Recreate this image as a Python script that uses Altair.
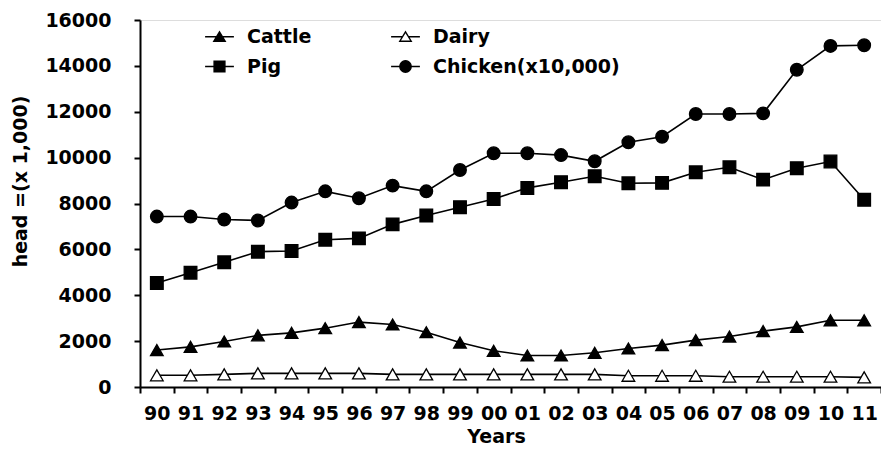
import altair as alt
import pandas as pd

years = ["90", "91", "92", "93", "94", "95", "96", "97", "98", "99", "00",
         "01", "02", "03", "04", "05", "06", "07", "08", "09", "10", "11"]
cattle = [1610, 1750, 1985, 2250, 2360, 2565, 2830, 2725, 2390, 1940, 1580,
          1375, 1375, 1490, 1680, 1825, 2045, 2200, 2435, 2620, 2910, 2910]
dairy = [510, 510, 550, 595, 595, 595, 595, 550, 550, 550, 550,
         550, 550, 550, 490, 490, 490, 450, 450, 450, 450, 420]
pig = [4535, 4985, 5435, 5900, 5930, 6420, 6480, 7090, 7480, 7840, 8200,
       8680, 8930, 9190, 8880, 8900, 9360, 9580, 9040, 9540, 9830, 8160]
chicken = [7430, 7430, 7300, 7260, 8040, 8530, 8230, 8780, 8530, 9460, 10190,
           10190, 10110, 9840, 10670, 10910, 11900, 11900, 11930, 13830, 14870, 14900]

# legend order (column-major fill of a 2x2 grid): Cattle, Pig | Dairy, Chicken
animals = ["Cattle", "Pig", "Dairy", "Chicken"]
labels = ["Cattle", "Pig", "Dairy", "Chicken(x10,000)"]
plot_shapes = ["triangle-up", "square", "triangle-up", "circle"]
fills = ["black", "black", "white", "black"]
strokes = ["black", "black", "black", "black"]
legend_shapes = [
    "M-2.4,0H2.4M0,-0.8L0.95,0.75L-0.95,0.75Z",
    "M-2.4,0H2.4M-0.9,-0.9H0.9V0.9H-0.9Z",
    "M-2.4,0H-0.5M0.5,0H2.4M0,-0.8L0.95,0.75L-0.95,0.75Z",
    "M-2.4,0H2.4M0.95,0A0.95,0.95,0,1,1,-0.95,0A0.95,0.95,0,1,1,0.95,0Z",
]
series = {"Cattle": cattle, "Pig": pig, "Dairy": dairy, "Chicken": chicken}

rows = []
for name, lab in zip(animals, labels):
    for yr, v in zip(years, series[name]):
        rows.append({"Year": yr, "Animal": lab, "Head": v})
df = pd.DataFrame(rows)

FONT = "DejaVu Sans"

x = alt.X(
    "Year:O",
    sort=years,
    scale=alt.Scale(type="band", domain=years, paddingInner=0, paddingOuter=0),
    axis=alt.Axis(
        title="Years", tickBand="extent", labelAngle=0, labelFont=FONT,
        labelFontWeight="bold", labelFontSize=19, labelColor="black",
        labelPadding=11, tickSize=6, tickWidth=2, tickColor="black",
        domainColor="black", domainWidth=2, titleFont=FONT,
        titleFontSize=19, titleFontWeight="bold", titleColor="black",
        titleX=356, titleY=49, titleBaseline="middle", titleAnchor="start",
        titleAlign="center",
    ),
)
y = alt.Y(
    "Head:Q",
    scale=alt.Scale(domain=[0, 16000], nice=False),
    axis=alt.Axis(
        title="head =(x 1,000)", values=list(range(0, 16001, 2000)), grid=False,
        format="d",
        labelFont=FONT, labelFontWeight="bold", labelFontSize=19,
        labelColor="black", labelPadding=23, tickSize=6, tickWidth=2,
        tickColor="black", domainColor="black", domainWidth=2,
        titleFont=FONT, titleFontSize=19, titleFontWeight="bold",
        titleColor="black", titleX=-120, titleY=161, titleAngle=-90,
        titleBaseline="middle", titleAlign="center", titleAnchor="start",
    ),
)

base = alt.Chart(df).encode(x=x, y=y)

lines = base.mark_line(color="black", strokeWidth=1.6).encode(
    detail="Animal:N"
)

points = base.mark_point(
    stroke="black", strokeWidth=1.3, size=160, opacity=1, fillOpacity=1
).encode(
    shape=alt.Shape("Animal:N", sort=labels,
                    scale=alt.Scale(domain=labels, range=plot_shapes), legend=None),
    fill=alt.Fill("Animal:N", sort=labels,
                  scale=alt.Scale(domain=labels, range=fills), legend=None),
)

leg = alt.Legend(
    title=None, orient="none", legendX=70, legendY=7, columns=2,
    columnPadding=76, rowPadding=10, labelFont=FONT, labelFontWeight="bold",
    labelFontSize=19, labelColor="black", labelOffset=18, symbolOpacity=1,
    symbolStrokeColor="black", symbolStrokeWidth=1.4, padding=0,
    symbolSize=144, labelLimit=300,
)

legend_layer = base.mark_point(
    strokeWidth=1.4, size=144, opacity=1, fillOpacity=1
).encode(
    shape=alt.Shape("Animal:N", sort=labels,
                    scale=alt.Scale(domain=labels, range=legend_shapes), legend=leg),
    fill=alt.Fill("Animal:N", sort=labels,
                  scale=alt.Scale(domain=labels, range=fills), legend=leg),
    stroke=alt.Stroke("Animal:N", sort=labels,
                      scale=alt.Scale(domain=labels, range=strokes), legend=leg),
).transform_filter("false")

chart = (
    alt.layer(legend_layer, lines, points)
    .resolve_scale(shape="independent", fill="independent", stroke="independent")
    .resolve_legend(shape="independent", fill="independent", stroke="independent")
    .properties(
        width=741, height=367,
        autosize=alt.AutoSizeParams(type="none"),
        padding={"left": 132, "top": 12, "right": 0, "bottom": 62},
    )
    .configure_view(stroke=None)
    .configure(background="white")
)

chart.save("out.html", embed_options={"renderer": "svg", "actions": False})
